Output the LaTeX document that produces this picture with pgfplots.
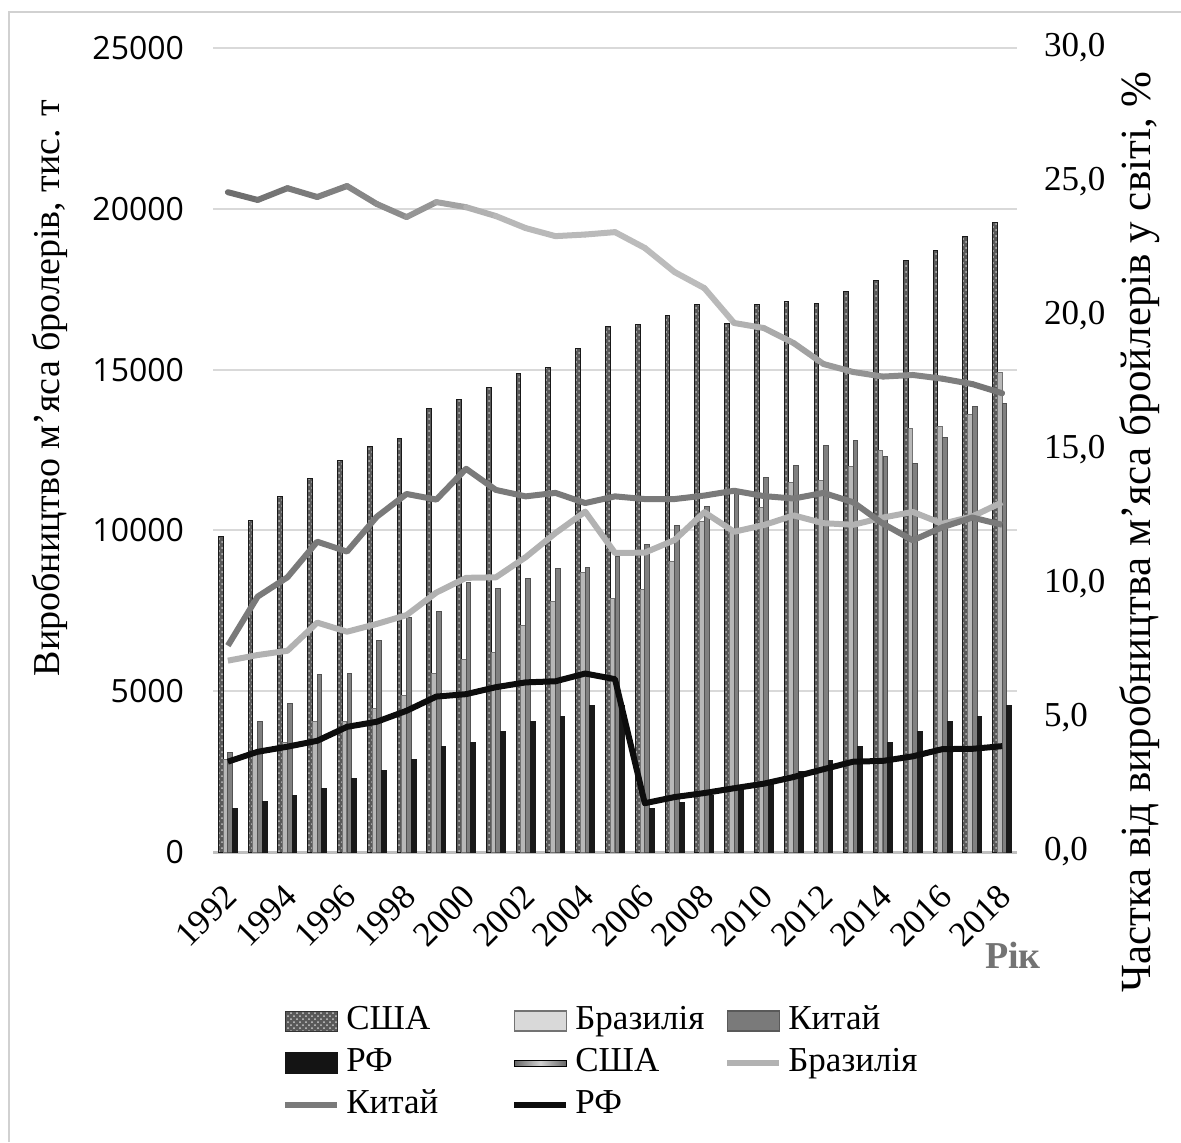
\documentclass[border=0pt]{standalone}
\usepackage{fontspec}
\setmainfont{Liberation Serif}
\newfontfamily\osans{Open Sans}
\usepackage{pgfplots}
\pgfplotsset{compat=1.18}
\usepackage{pgfplotstable}
\usetikzlibrary{patterns}

\pgfplotstableread{
year usa bra chn rf pusa pbra pchn prf
1992 9820 2870 3080 1340 24.62 7.14 7.70 3.37
1993 10300 3140 4060 1560 24.33 7.35 9.53 3.74
1994 11040 3420 4615 1750 24.77 7.51 10.25 3.93
1995 11600 4065 5520 1970 24.44 8.56 11.58 4.15
1996 12160 4065 5550 2300 24.85 8.22 11.21 4.67
1997 12600 4450 6590 2530 24.18 8.51 12.51 4.86
1998 12870 4860 7300 2870 23.69 8.84 13.36 5.27
1999 13780 5550 7490 3290 24.25 9.68 13.15 5.80
2000 14080 5980 8370 3420 24.06 10.23 14.30 5.89
2001 14430 6200 8180 3750 23.73 10.25 13.51 6.15
2002 14870 7040 8520 4060 23.28 11.00 13.27 6.33
2003 15080 7780 8830 4220 22.98 11.90 13.40 6.37
2004 15670 8680 8860 4550 23.04 12.70 13.02 6.66
2005 16330 7890 9200 4560 23.13 11.16 13.27 6.45
2006 16400 8160 9560 1350 22.54 11.17 13.17 1.82
2007 16670 9020 10160 1550 21.64 11.64 13.17 2.05
2008 17010 10280 10750 1750 21.04 12.68 13.30 2.20
2009 16420 10000 11250 1950 19.74 11.95 13.48 2.38
2010 17010 10700 11630 2200 19.55 12.20 13.28 2.55
2011 17110 11480 12020 2510 18.99 12.56 13.19 2.80
2012 17060 11560 12640 2850 18.21 12.27 13.40 3.09
2013 17420 11980 12810 3270 17.91 12.21 13.05 3.37
2014 17760 12500 12310 3420 17.74 12.48 12.25 3.40
2015 18400 13160 12070 3760 17.80 12.69 11.63 3.57
2016 18700 13240 12900 4060 17.66 12.25 12.12 3.84
2017 19140 13600 13850 4200 17.46 12.52 12.48 3.85
2018 19570 14910 13940 4550 17.12 13.05 12.21 3.95
}\data

\begin{document}
\begin{tikzpicture}
\path[use as bounding box] (-106.5pt,-145pt) rectangle (484pt,426pt);
\draw[black!18, line width=1pt] (-102pt,-145pt) -- (-102pt,420pt) -- (484pt,420pt);

\begin{axis}[
 at={(0,0)}, anchor=south west, scale only axis, width=402pt, height=402pt,
 xmin=1991.5, xmax=2018.5, ymin=0, ymax=25000,
 xtick={1992,1994,...,2018}, ytick={0,5000,...,25000},
 major tick length=0pt,
 axis x line*=bottom, axis y line*=left,
 x axis line style={draw=black!25, line width=1.5pt, -},
 y axis line style={draw=none},
 ymajorgrids, grid style={draw=black!15, line width=1pt},
 scaled y ticks=false,
 yticklabel style={font=\osans\fontsize{16}{18}\selectfont, xshift=-11pt, /pgf/number format/.cd, 1000 sep={}, assume math mode=true},
 xticklabel style={font=\fontsize{17.5}{20}\selectfont, xshift=4pt, yshift=-17pt, rotate=45, anchor=east, /pgf/number format/.cd, 1000 sep={}, assume math mode=true},
 clip=false,
]
\addplot[ybar, bar width=2.35pt, bar shift=-3.55pt, fill=black!65, draw=black!90, line width=0.5pt, postaction={pattern=crosshatch dots, pattern color=black!25}] table[x=year,y=usa]{\data};
\addplot[ybar, bar width=2.35pt, bar shift=-1.2pt, fill=black!28, draw=black!55, line width=0.5pt] table[x=year,y=bra]{\data};
\addplot[ybar, bar width=2.35pt, bar shift=1.2pt, fill=black!50, draw=black!68, line width=0.5pt] table[x=year,y=chn]{\data};
\addplot[ybar, bar width=2.35pt, bar shift=3.55pt, fill=black!90, draw=black!90, line width=0.5pt] table[x=year,y=rf]{\data};
\end{axis}

\begin{axis}[
 at={(0,0)}, anchor=south west, scale only axis, width=402pt, height=402pt,
 xmin=1991.5, xmax=2018.5, ymin=0, ymax=30,
 axis x line=none, axis y line*=right, y axis line style={draw=none},
 ytick={0,5,10,15,20,25,30}, major tick length=0pt,
 yticklabel style={font=\fontsize{17.5}{20}\selectfont, xshift=10pt, /pgf/number format/.cd, fixed, fixed zerofill, precision=1, use comma, assume math mode=true},
 clip=false,
 colormap={usa}{gray(0cm)=(0.42); gray(6cm)=(0.56); gray(9cm)=(0.72); gray(16cm)=(0.74); gray(20cm)=(0.62); gray(26cm)=(0.45)},
 legend columns=3,
 legend style={draw=none, fill=none, at={(axis description cs:0.0858,-0.19)}, anchor=north west,
   font=\fontsize{17.5}{20}\selectfont, inner sep=0pt, row sep=5pt,
   nodes={inner xsep=3pt, inner ysep=0pt, text height=12pt, text depth=4pt},
   /tikz/column 2/.style={text width=79.5pt},
   /tikz/column 4/.style={text width=71.5pt},
   /tikz/column 6/.style={text width=80pt}},
]
\addlegendimage{legend image code/.code={\fill[black!65] (0pt,-5pt) rectangle (26pt,5pt); \fill[pattern=crosshatch dots, pattern color=black!20] (0pt,-5pt) rectangle (26pt,5pt); \draw[black!80, line width=0.5pt] (0pt,-5pt) rectangle (26pt,5pt);}}
\addlegendentry{США}
\addlegendimage{legend image code/.code={\draw[fill=black!15, draw=black!55, line width=0.8pt] (0pt,-5pt) rectangle (26pt,5pt);}}
\addlegendentry{Бразилія}
\addlegendimage{legend image code/.code={\draw[fill=black!52, draw=black!65, line width=0.8pt] (0pt,-5pt) rectangle (26pt,5pt);}}
\addlegendentry{Китай}
\addlegendimage{legend image code/.code={\draw[fill=black!92, draw=black!92, line width=0.8pt] (0pt,-5pt) rectangle (26pt,5pt);}}
\addlegendentry{РФ}
\addlegendimage{legend image code/.code={\shade[left color=black!60, right color=black!60, middle color=black!18] (0pt,-1.5pt) rectangle (26pt,1.5pt);}}
\addlegendentry{США}
\addlegendimage{legend image code/.code={\draw[black!30, line width=3pt] (0pt,0pt) -- (26pt,0pt);}}
\addlegendentry{Бразилія}
\addlegendimage{legend image code/.code={\draw[black!52, line width=3pt] (0pt,0pt) -- (26pt,0pt);}}
\addlegendentry{Китай}
\addlegendimage{legend image code/.code={\draw[black!95, line width=3pt] (0pt,0pt) -- (26pt,0pt);}}
\addlegendentry{РФ}

\addplot[mesh, line width=3pt, line cap=round, point meta=\thisrow{year}, forget plot] table[x=year,y=pusa]{\data};
\addplot[black!30, line width=3pt, line join=round, forget plot] table[x=year,y=pbra]{\data};
\addplot[black!52, line width=3pt, line join=round, forget plot] table[x=year,y=pchn]{\data};
\addplot[black!95, line width=3pt, line join=round, forget plot] table[x=year,y=prf]{\data};
\end{axis}

\node[rotate=90, font=\fontsize{19}{20}\selectfont] at (-81.5pt,232pt) {Виробництво м'яса бролерів, тис. т};
\node[rotate=90, font=\fontsize{21.5}{22}\selectfont] at (463.5pt,160pt) {Частка від виробництва м'яса бройлерів у світі, \%};
\node[font=\bfseries\fontsize{19}{20}\selectfont, text=black!55] at (400pt,-51.5pt) {Рік};
\end{tikzpicture}
\end{document}
